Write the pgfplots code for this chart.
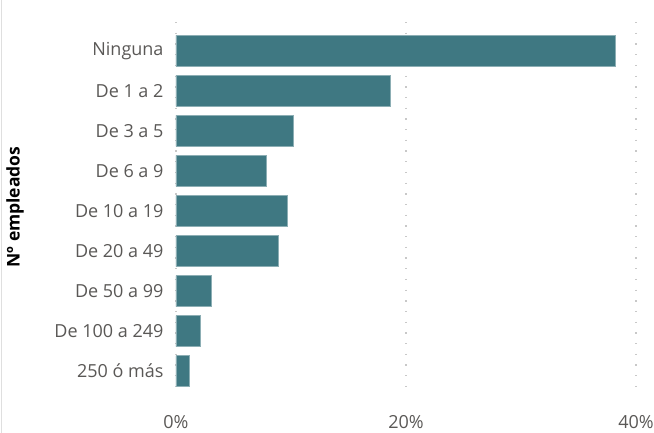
\documentclass[border=0pt]{standalone}
\usepackage{pgfplots}
\pgfplotsset{compat=1.18}
\usepackage{fontspec}
\setmainfont{Open Sans}
\definecolor{barc}{HTML}{3F7882}
\definecolor{txt}{HTML}{5A5856}
\definecolor{gridc}{HTML}{C8C8C8}
\begin{document}
\begin{tikzpicture}
% page = 654 x 433, axis box 460 x 370 with its south west at the origin
\useasboundingbox (-176bp,-41bp) rectangle (478bp,392bp);
\draw[gray!25, line width=1bp] (-174bp,-41bp) -- (-174bp,392bp);
\begin{axis}[
    scale only axis,
    width=460bp, height=370bp,
    xbar, bar width=31bp, bar shift=0pt,
    xmin=0, xmax=40,
    ymin=-0.72, ymax=8.52, y dir=reverse,
    ytick={0,...,8},
    yticklabels={Ninguna, De 1 a 2, De 3 a 5, De 6 a 9, De 10 a 19, De 20 a 49, De 50 a 99, De 100 a 249, 250 ó más},
    xtick={0,20,40},
    xticklabel={\pgfmathprintnumber{\tick}\%},
    /pgf/number format/assume math mode=true,
    axis line style={draw=none},
    major tick length=0pt,
    xmajorgrids,
    grid style={gridc, line width=1.3bp, dash pattern=on 1.3bp off 9.4bp},
    ticklabel style={font=\fontsize{18bp}{20bp}\selectfont, text=txt},
    xticklabel style={yshift=-20bp},
    yticklabel style={xshift=-9bp},
    ylabel={Nº empleados},
    ylabel style={font=\fontsize{17.5bp}{20bp}\selectfont\bfseries, text=black,
        at={(axis description cs:-0.35,0.5)}, anchor=center},
]
\addplot[fill=barc, draw=barc!60!white, line width=0.6bp] coordinates {
    (38.2,0) (18.6,1) (10.2,2) (7.85,3) (9.7,4) (8.9,5) (3.1,6) (2.1,7) (1.2,8)
};
\end{axis}
\end{tikzpicture}
\end{document}
